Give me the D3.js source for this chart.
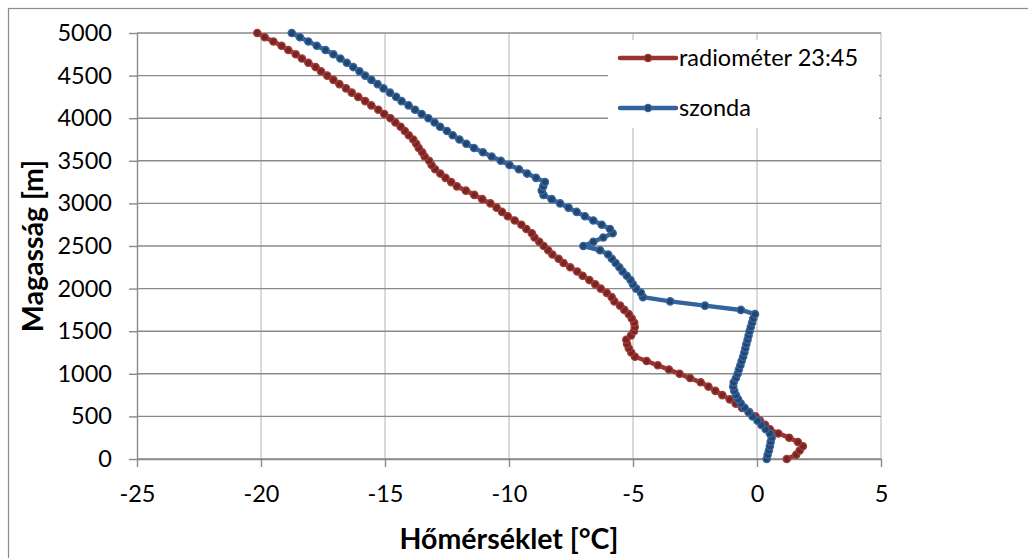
<!DOCTYPE html>
<html>
<head>
<meta charset="utf-8">
<script src="https://cdn.jsdelivr.net/npm/d3@7"></script>
<style>
  html, body { margin: 0; padding: 0; background: #fff; }
  svg { display: block; }
  text { font-family: Lato, "Open Sans", sans-serif; fill: #000; }
</style>
</head>
<body>
<svg id="chart" width="1028" height="558"></svg>
<script>
// Height levels of the profiles [m]
const heights = [
  0, 50, 100, 150, 200, 250, 300, 350, 400, 450,
  500, 550, 600, 650, 700, 750, 800, 850, 900, 950,
  1000, 1050, 1100, 1150, 1200, 1250, 1300, 1350, 1400, 1450,
  1500, 1550, 1600, 1650, 1700, 1750, 1800, 1850, 1900, 1950,
  2000, 2050, 2100, 2150, 2200, 2250, 2300, 2350, 2400, 2450,
  2500, 2550, 2600, 2650, 2700, 2750, 2800, 2850, 2900, 2950,
  3000, 3050, 3100, 3150, 3200, 3250, 3300, 3350, 3400, 3450,
  3500, 3550, 3600, 3650, 3700, 3750, 3800, 3850, 3900, 3950,
  4000, 4050, 4100, 4150, 4200, 4250, 4300, 4350, 4400, 4450,
  4500, 4550, 4600, 4650, 4700, 4750, 4800, 4850, 4900, 4950,
  5000
];

// Radiometer temperature profile, 23:45 [°C]
const radiometer = [
  1.2, 1.58, 1.72, 1.85, 1.65, 1.3, 0.86, 0.52, 0.33, 0.12,
  -0.06, -0.31, -0.6, -0.86, -1.1, -1.4, -1.68, -1.96, -2.27, -2.7,
  -3.12, -3.55, -4.0, -4.45, -4.92, -5.07, -5.17, -5.24, -5.27, -5.08,
  -4.96, -4.93, -4.95, -5.05, -5.17, -5.35, -5.52, -5.75, -5.86, -6.06,
  -6.3, -6.52, -6.76, -7.03, -7.25, -7.53, -7.8, -8.0, -8.25, -8.42,
  -8.6, -8.78, -8.97, -9.08, -9.3, -9.5, -9.77, -10.05, -10.28, -10.5,
  -10.75, -11.08, -11.4, -11.74, -12.1, -12.33, -12.56, -12.77, -12.98, -13.12,
  -13.22, -13.4, -13.5, -13.64, -13.74, -13.86, -14.04, -14.2, -14.37, -14.58,
  -14.78, -15.03, -15.27, -15.55, -15.8, -16.08, -16.34, -16.57, -16.84, -17.08,
  -17.33, -17.58, -17.8, -18.09, -18.35, -18.6, -18.9, -19.17, -19.5, -19.85,
  -20.15
];

// Radiosonde temperature profile [°C]
const sonde = [
  0.39, 0.43, 0.48, 0.52, 0.55, 0.59, 0.52, 0.35, 0.18, 0.02,
  -0.18, -0.34, -0.5, -0.65, -0.76, -0.85, -0.92, -0.96, -0.94, -0.85,
  -0.78, -0.73, -0.67, -0.62, -0.56, -0.51, -0.47, -0.43, -0.38, -0.34,
  -0.3, -0.25, -0.2, -0.15, -0.08, -0.65, -2.1, -3.5, -4.6, -4.68,
  -4.87, -5.0, -5.1, -5.25, -5.42, -5.55, -5.7, -5.85, -6.0, -6.33,
  -7.0, -6.6, -6.2, -5.82, -5.93, -6.26, -6.6, -6.94, -7.27, -7.6,
  -7.94, -8.28, -8.61, -8.68, -8.62, -8.55, -8.91, -9.27, -9.6, -9.98,
  -10.33, -10.7, -11.05, -11.41, -11.72, -12.0, -12.27, -12.5, -12.78, -13.0,
  -13.25, -13.52, -13.79, -14.05, -14.33, -14.55, -14.8, -15.06, -15.3, -15.55,
  -15.8, -16.03, -16.28, -16.54, -16.8, -17.08, -17.4, -17.75, -18.09, -18.43,
  -18.76
];

const xTicks = [-25, -20, -15, -10, -5, 0, 5];
const yTicks = [0, 500, 1000, 1500, 2000, 2500, 3000, 3500, 4000, 4500, 5000];

const seriesNames = ["radiométer 23:45", "szonda"];
const xTitle = "Hőmérséklet [°C]";
const yTitle = "Magasság [m]";

const svg = d3.select("#chart");

// Plot area
const plot = { left: 137, right: 881, top: 33, bottom: 459 };
const x = d3.scaleLinear().domain([-25, 5]).range([plot.left, plot.right]);
const y = d3.scaleLinear().domain([0, 5000]).range([plot.bottom, plot.top]);

// Outer chart frame (left and top edges)
svg.append("rect")
  .attr("x", 8.5).attr("y", 8.5)
  .attr("width", 1200).attr("height", 800)
  .attr("fill", "none").attr("stroke", "#8c8c8c").attr("stroke-width", 1.2);

// Vertical gridlines
svg.append("g").selectAll("line")
  .data(xTicks.filter(d => d !== -25))
  .join("line")
  .attr("x1", d => x(d)).attr("x2", d => x(d))
  .attr("y1", plot.top).attr("y2", plot.bottom)
  .attr("stroke", "#d9d9d9").attr("stroke-width", 2);

// Horizontal gridlines
svg.append("g").selectAll("line")
  .data(yTicks)
  .join("line")
  .attr("x1", plot.left).attr("x2", plot.right)
  .attr("y1", d => y(d)).attr("y2", d => y(d))
  .attr("stroke", "#8a8a8a").attr("stroke-width", 1.4);

// Axes
const yAxis = svg.append("g")
  .attr("transform", `translate(${plot.left},0)`)
  .call(d3.axisLeft(y).tickValues(yTicks).tickSize(8).tickPadding(17).tickSizeOuter(0)
    .tickFormat(d => String(d)));
const xAxis = svg.append("g")
  .attr("transform", `translate(0,${plot.bottom})`)
  .call(d3.axisBottom(x).tickValues(xTicks).tickSize(8).tickPadding(18).tickSizeOuter(0)
    .tickFormat(d => d < 0 ? "-" + Math.abs(d) : String(d)));
[xAxis, yAxis].forEach(a => {
  a.select(".domain").attr("stroke", "#8a8a8a").attr("stroke-width", 1.4);
  a.selectAll(".tick line").attr("stroke", "#8a8a8a").attr("stroke-width", 1.4);
  a.selectAll(".tick text")
    .attr("font-family", "Lato, 'Open Sans', sans-serif")
    .attr("font-size", 23.5).attr("fill", "#000");
});

// Legend box (masks the gridlines behind it)
const legend = svg.append("g");
legend.append("rect")
  .attr("x", 608).attr("y", 40).attr("width", 271).attr("height", 88)
  .attr("fill", "#fff");

// Series
const styles = [
  { values: radiometer, line: "#963532", fill: "#7a2522", stroke: "#a03d3a" },
  { values: sonde, line: "#33639c", fill: "#23466f", stroke: "#3767a1" }
];

const lineGen = d3.line()
  .x(d => x(d[0]))
  .y(d => y(d[1]));

styles.forEach(s => {
  const pts = heights.map((h, i) => [s.values[i], h]);
  const g = svg.append("g");
  g.append("path")
    .datum(pts)
    .attr("d", lineGen)
    .attr("fill", "none")
    .attr("stroke", s.line)
    .attr("stroke-width", 4.5)
    .attr("stroke-linejoin", "round")
    .attr("stroke-linecap", "round");
  g.selectAll("circle")
    .data(pts)
    .join("circle")
    .attr("cx", d => x(d[0]))
    .attr("cy", d => y(d[1]))
    .attr("r", 3.6)
    .attr("fill", s.fill)
    .attr("stroke", s.stroke)
    .attr("stroke-width", 1.4);
});

// Legend entries
seriesNames.forEach((name, i) => {
  const s = styles[i];
  const cy = 58 + i * 50;
  legend.append("line")
    .attr("x1", 620).attr("x2", 676)
    .attr("y1", cy).attr("y2", cy)
    .attr("stroke", s.line).attr("stroke-width", 4.5)
    .attr("stroke-linecap", "round");
  legend.append("circle")
    .attr("cx", 648).attr("cy", cy).attr("r", 3.6)
    .attr("fill", s.fill).attr("stroke", s.stroke).attr("stroke-width", 1.4);
  legend.append("text")
    .attr("x", 679).attr("y", cy).attr("dy", "0.36em")
    .attr("font-size", 23.5)
    .text(name);
});
legend.raise();

// Axis titles
svg.append("text")
  .attr("x", (plot.left + plot.right) / 2).attr("y", 549)
  .attr("text-anchor", "middle")
  .attr("font-size", 28.5).attr("font-weight", "bold")
  .text(xTitle);

svg.append("text")
  .attr("transform", `translate(43,${(plot.top + plot.bottom) / 2}) rotate(-90)`)
  .attr("text-anchor", "middle")
  .attr("font-size", 28.5).attr("font-weight", "bold")
  .text(yTitle);
</script>
</body>
</html>
